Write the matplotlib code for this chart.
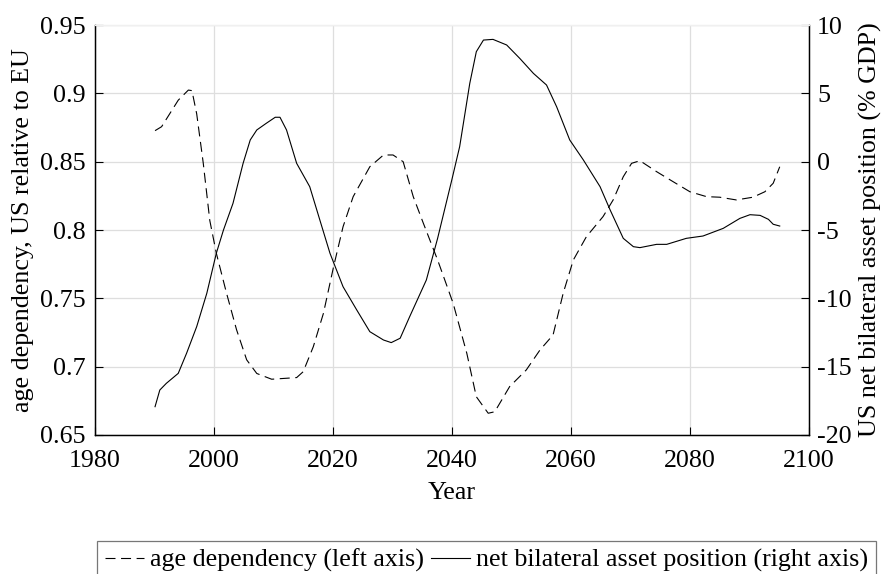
import matplotlib
matplotlib.use("Agg")
import matplotlib.pyplot as plt

plt.rcParams['font.family'] = ['Liberation Serif', 'DejaVu Serif']
plt.rcParams['mathtext.fontset'] = 'stix'

# Age dependency ratio, US relative to EU (left axis)
age_years = [1990.1, 1991.2, 1994.0, 1995.7, 1996.3, 1997.1, 1998.2, 1999.3, 2000.4,
             2002.1, 2003.8, 2005.5, 2007.2, 2009.7, 2013.9, 2015.0, 2016.7, 2018.4,
             2020.1, 2021.7, 2023.4, 2026.2, 2028.5, 2030.1, 2031.8, 2033.5, 2035.2,
             2037.6, 2040.2, 2042.5, 2044.1, 2045.3, 2046.1, 2047.2, 2049.7, 2052.5,
             2054.8, 2057.0, 2058.7, 2060.4, 2062.6, 2065.4, 2067.1, 2068.8, 2070.2,
             2071.6, 2074.4, 2077.2, 2080.0, 2082.8, 2085.0, 2087.8, 2090.6, 2092.6,
             2094.0, 2095.1]
age_dependency = [0.8727, 0.8756, 0.895, 0.9024, 0.902, 0.885, 0.849, 0.807, 0.783,
                  0.754, 0.727, 0.705, 0.695, 0.6908, 0.692, 0.6963, 0.7146, 0.739,
                  0.773, 0.8024, 0.8244, 0.8463, 0.8549, 0.8549, 0.850, 0.8244, 0.8049,
                  0.778, 0.7464, 0.7098, 0.678, 0.6707, 0.6659, 0.667, 0.6854, 0.6976,
                  0.7122, 0.7232, 0.7537, 0.778, 0.7951, 0.8098, 0.822, 0.839, 0.8488,
                  0.8507, 0.8427, 0.8353, 0.828, 0.8244, 0.824, 0.822, 0.824, 0.828,
                  0.8342, 0.8463]

# Net bilateral asset position, % of GDP (right axis)
nfa_years = [1990.1, 1990.9, 1992.0, 1994.0, 1995.4, 1997.1, 1998.8, 2000.4, 2001.6,
             2003.2, 2004.9, 2006.1, 2007.2, 2008.8, 2010.3, 2011.1, 2012.2, 2013.9,
             2016.1, 2017.8, 2019.5, 2021.7, 2024.0, 2026.2, 2028.5, 2029.8, 2031.3,
             2032.9, 2035.7, 2037.6, 2040.0, 2041.3, 2043.0, 2044.1, 2045.3, 2046.9,
             2049.2, 2051.4, 2053.7, 2055.9, 2057.6, 2059.8, 2062.1, 2064.9, 2066.6,
             2068.8, 2070.5, 2071.6, 2074.4, 2076.1, 2079.4, 2082.2, 2085.6, 2088.4,
             2090.1, 2091.8, 2093.2, 2094.0, 2095.1]
nfa_position = [-17.93, -16.71, -16.22, -15.49, -14.02, -12.07, -9.63, -6.70, -5.0,
                -3.05, -0.12, 1.59, 2.32, 2.81, 3.25, 3.25, 2.32, -0.12,
                -1.83, -4.27, -6.70, -9.15, -10.85, -12.44, -13.05, -13.24, -12.92,
                -11.34, -8.66, -5.6, -1.3, 1.10, 5.73, 8.05, 8.90, 8.95,
                8.54, 7.56, 6.46, 5.61, 4.02, 1.59, 0.12, -1.83, -3.54,
                -5.61, -6.22, -6.29, -6.05, -6.05, -5.61, -5.44, -4.88, -4.15,
                -3.88, -3.93, -4.22, -4.58, -4.71]

x_ticks = [1980, 2000, 2020, 2040, 2060, 2080, 2100]
left_ticks = [0.65, 0.7, 0.75, 0.8, 0.85, 0.9, 0.95]
left_labels = ['0.65', '0.7', '0.75', '0.8', '0.85', '0.9', '0.95']
right_ticks = [-20, -15, -10, -5, 0, 5, 10]
right_labels = ['-20', '-15', '-10', '-5', '0', '5', '10']

fs = 18.7
grid_color = '#dedede'

fig = plt.figure(figsize=(8.85, 5.74), dpi=100)
ax = fig.add_axes([0.1073, 0.2422, 0.8067, 0.7142])
ax2 = ax.twinx()

l1, = ax.plot(age_years, age_dependency, color='black', lw=0.8, dashes=(9, 5))
l2, = ax2.plot(nfa_years, nfa_position, color='black', lw=0.8)

ax.set_xlim(1980, 2100)
ax.set_ylim(0.65, 0.95)
ax2.set_ylim(-20, 10)

ax.set_xticks(x_ticks)
ax.set_xticklabels([str(t) for t in x_ticks])
ax.set_yticks(left_ticks)
ax.set_yticklabels(left_labels)
ax2.set_yticks(right_ticks)
ax2.set_yticklabels(right_labels)

ax.grid(True, color=grid_color, lw=0.9)
ax.set_axisbelow(True)

for a in (ax, ax2):
    a.tick_params(direction='in', length=6, width=0.8, labelsize=fs, color='black')
    for s in a.spines.values():
        s.set_linewidth(0.9)
    a.spines['top'].set_color('#f0f0f0')
ax.tick_params(axis='y', pad=7)
ax.tick_params(axis='x', pad=11)
ax2.tick_params(axis='y', pad=6)
ax.tick_params(top=False, right=False)
ax2.tick_params(left=False)

ax.set_xlabel('Year', fontsize=fs, labelpad=7)
ax.set_ylabel('age dependency, US relative to EU', fontsize=fs, labelpad=4)
ax2.set_ylabel('US net bilateral asset position (% GDP)', fontsize=fs, labelpad=5)

leg = fig.legend([l1, l2],
                 ['age dependency (left axis)', 'net bilateral asset position (right axis)'],
                 loc='upper left', bbox_to_anchor=(0.1096, 0.0575), ncol=2,
                 fontsize=fs, frameon=True, fancybox=False, handlelength=1.5,
                 handletextpad=0.25, columnspacing=0.25, borderpad=0.3,
                 borderaxespad=0.0)
leg.get_frame().set_edgecolor('#555555')
leg.get_frame().set_linewidth(0.9)

fig.savefig('out.png', dpi=100)
